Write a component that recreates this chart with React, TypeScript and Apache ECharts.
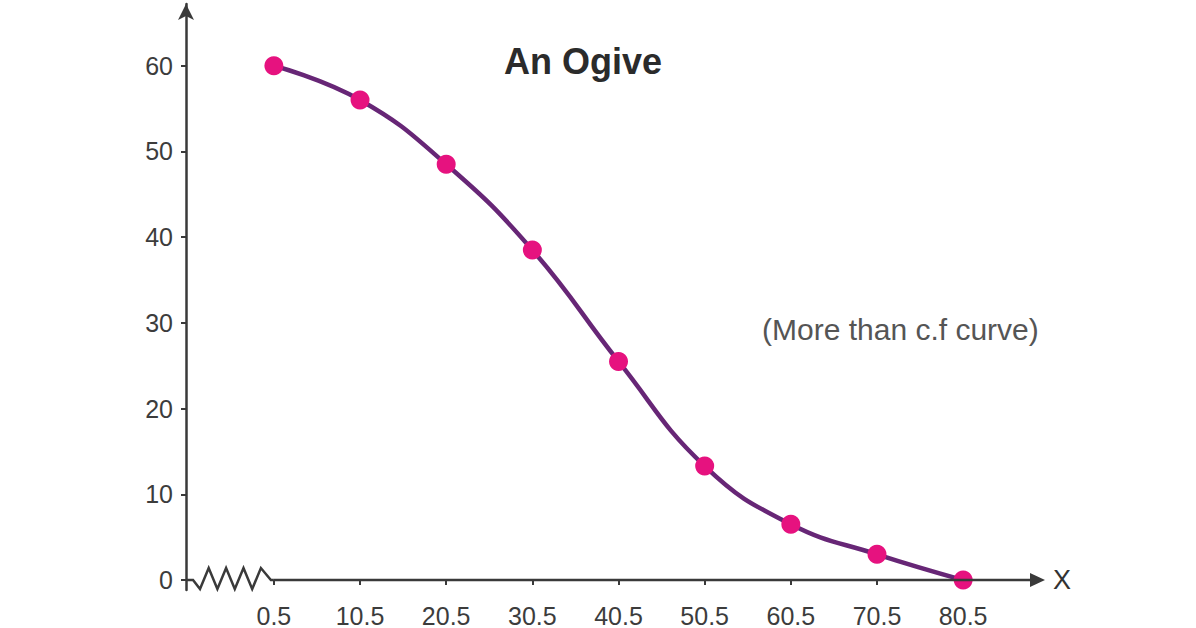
import * as echarts from 'echarts';
import { useEffect, useRef } from 'react';

// class boundaries and "more than" cumulative frequencies
const classMarks = [0.5, 10.5, 20.5, 30.5, 40.5, 50.5, 60.5, 70.5, 80.5];
const moreThanCf = [60, 56, 48.5, 38.5, 25.5, 13.3, 6.5, 3, 0];
const yTicks = [0, 10, 20, 30, 40, 50, 60];

const X_MIN = -9.7;
const X_MAX = 90;
const Y_MIN = -1.16;
const Y_MAX = 67.2;

const FONT = '"Liberation Sans", Arial, Helvetica, sans-serif';
const AXIS_COLOR = '#3a3a3a';

const Ogive = () => {
    const chartRef = useRef(null);

    useEffect(() => {
        const chart = echarts.init(chartRef.current, null, { renderer: 'svg' });

        const option = {
            animation: false,
            grid: { left: 186, right: 151, top: 4, bottom: 36 },
            xAxis: {
                type: 'value',
                min: X_MIN,
                max: X_MAX,
                axisLine: { show: false, onZero: true },
                axisTick: {
                    show: true,
                    customValues: classMarks,
                    length: 5,
                    lineStyle: { color: AXIS_COLOR, width: 2 },
                },
                axisLabel: {
                    customValues: classMarks,
                    color: '#3c3c3c',
                    fontSize: 25,
                    fontFamily: FONT,
                    margin: 13,
                },
                splitLine: { show: false },
            },
            yAxis: {
                type: 'value',
                min: Y_MIN,
                max: Y_MAX,
                axisLine: {
                    show: true,
                    onZero: false,
                    symbol: ['none', 'arrow'],
                    symbolSize: [12, 16],
                    lineStyle: { color: AXIS_COLOR, width: 2.5 },
                },
                axisTick: {
                    show: true,
                    customValues: yTicks,
                    length: 5,
                    lineStyle: { color: AXIS_COLOR, width: 2 },
                },
                axisLabel: {
                    customValues: yTicks,
                    color: '#3c3c3c',
                    fontSize: 25,
                    fontFamily: FONT,
                    margin: 13,
                },
                splitLine: { show: false },
            },
            series: [
                {
                    type: 'line',
                    data: classMarks.map((x, i) => [x, moreThanCf[i]]),
                    smooth: 0.45,
                    symbol: 'circle',
                    symbolSize: 19,
                    itemStyle: { color: '#e6127f' },
                    lineStyle: { color: '#672676', width: 4.5 },
                },
            ],
        };

        chart.setOption(option);

        // x axis drawn by hand: zigzag break, then a straight line with an arrow
        const toPx = (x, y) => chart.convertToPixel({ gridIndex: 0 }, [x, y]);
        const [x0, y0] = toPx(X_MIN, 0);
        const [xs] = toPx(classMarks[0], 0);
        const [xe] = toPx(X_MAX, 0);
        const w = xs - x0;
        const lead = w * 0.08;
        const step = w * 0.099;
        const zig = [[x0, y0], [x0 + lead, y0]];
        let px = x0 + lead + step * 0.8;
        for (let i = 0; i < 8; i++) {
            zig.push([px, i % 2 === 0 ? y0 + 9 : y0 - 12]);
            px += step;
        }
        zig.push([px + step * 0.15, y0]);
        zig.push([xs, y0]);

        const lineStyle = { stroke: AXIS_COLOR, lineWidth: 2.5, fill: null };

        chart.setOption({
            graphic: [
                { type: 'polyline', shape: { points: zig }, style: lineStyle, z: 10 },
                { type: 'line', shape: { x1: xs, y1: y0, x2: xe - 8, y2: y0 }, style: lineStyle, z: 10 },
                {
                    type: 'polygon',
                    shape: { points: [[xe, y0], [xe - 15, y0 - 7], [xe - 15, y0 + 7]] },
                    style: { fill: AXIS_COLOR },
                    z: 10,
                },
                {
                    type: 'text',
                    x: xe + 17,
                    y: y0,
                    style: { text: 'X', fill: '#333', fontSize: 27, fontFamily: FONT, align: 'center', verticalAlign: 'middle' },
                },
                {
                    type: 'text',
                    x: 583,
                    y: 61,
                    style: { text: 'An Ogive', fill: '#2b2b2b', fontSize: 36, fontWeight: 'bold', fontFamily: FONT, align: 'center', verticalAlign: 'middle' },
                },
                {
                    type: 'text',
                    x: 762,
                    y: 329,
                    style: { text: '(More than c.f curve)', fill: '#555', fontSize: 30, fontFamily: FONT, align: 'left', verticalAlign: 'middle' },
                },
            ],
        });

        return () => {
            chart.dispose();
        };
    }, []);

    return <div ref={chartRef} style={{ position: 'absolute', left: 0, top: 0, width: 1196, height: 628 }} />;
};

export default function App() {
    return <Ogive />;
}
